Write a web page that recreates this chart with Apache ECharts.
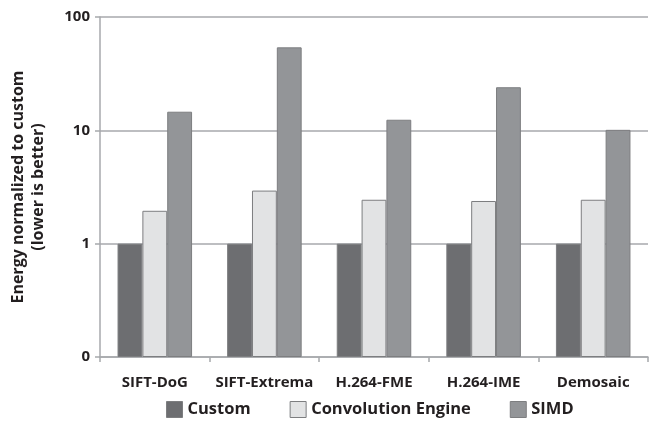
<!DOCTYPE html>
<html>
<head>
<meta charset="utf-8">
<script src="https://cdn.jsdelivr.net/npm/echarts@6/dist/echarts.min.js"></script>
<style>
  html, body { margin: 0; padding: 0; background: #fff; }
  #chart { width: 656px; height: 426px; }
</style>
</head>
<body>
<div id="chart"></div>
<script>
// Workloads and energy relative to the custom implementation
const categories = ['SIFT-DoG', 'SIFT-Extrema', 'H.264-FME', 'H.264-IME', 'Demosaic'];
const customValues = [1, 1, 1, 1, 1];
const convEngineValues = [1.95, 2.94, 2.44, 2.38, 2.44];
const simdValues = [14.6, 54, 12.4, 24, 10.1];
const seriesNames = ['Custom', 'Convolution Engine', 'SIMD'];

const FONT = '"Open Sans"';
const AXIS_MIN = 0.1;
const chart = echarts.init(document.getElementById('chart'), null, { renderer: 'canvas' });

function barSeries(name, data, fill) {
  return {
    name: name,
    type: 'bar',
    data: data,
    barGap: '0%',
    barCategoryGap: '32%',
    itemStyle: { color: fill, borderColor: '#7d7e80', borderWidth: 1 },
    emphasis: { disabled: true }
  };
}

chart.setOption({
  animation: false,
  grid: { left: 96, right: 8, top: 17, bottom: 69 },
  legend: {
    bottom: 8,
    left: 166,
    padding: 0,
    itemWidth: 16,
    itemHeight: 16,
    itemGap: 39,
    icon: 'rect',
    textStyle: { fontFamily: FONT, fontWeight: 'bold', fontSize: 16.5, color: '#231f20' },
    data: seriesNames.map(n => ({ name: n, itemStyle: { borderColor: '#7d7e80', borderWidth: 1 } }))
  },
  xAxis: {
    type: 'category',
    data: categories,
    axisLine: { lineStyle: { color: '#a7a9ac', width: 1.5 } },
    axisTick: { show: true, length: 5, lineStyle: { color: '#a7a9ac', width: 1.5 } },
    axisLabel: { interval: 0, margin: 18, fontFamily: FONT, fontWeight: 'bold', fontSize: 15, color: '#231f20' }
  },
  yAxis: {
    type: 'log',
    logBase: 10,
    min: AXIS_MIN,
    max: 100,
    startValue: AXIS_MIN,
    name: 'Energy normalized to custom\n(lower is better)',
    nameLocation: 'middle',
    nameGap: 52,
    nameTextStyle: { fontFamily: FONT, fontWeight: 'bold', fontSize: 16, color: '#231f20', lineHeight: 20 },
    axisLine: { show: true, lineStyle: { color: '#a7a9ac', width: 1.5 } },
    axisTick: { show: true, length: 5, lineStyle: { color: '#a7a9ac', width: 1.5 } },
    splitLine: { show: true, lineStyle: { color: '#a7a9ac', width: 1.5 } },
    axisLabel: {
      margin: 10,
      fontFamily: FONT, fontWeight: 'bold', fontSize: 15, color: '#231f20',
      formatter: v => (v < 1 ? '0' : String(Math.round(v)))
    }
  },
  series: [
    barSeries(seriesNames[0], customValues, '#6d6e71'),
    barSeries(seriesNames[1], convEngineValues, '#e2e3e4'),
    barSeries(seriesNames[2], simdValues, '#939598')
  ]
});
</script>
</body>
</html>
